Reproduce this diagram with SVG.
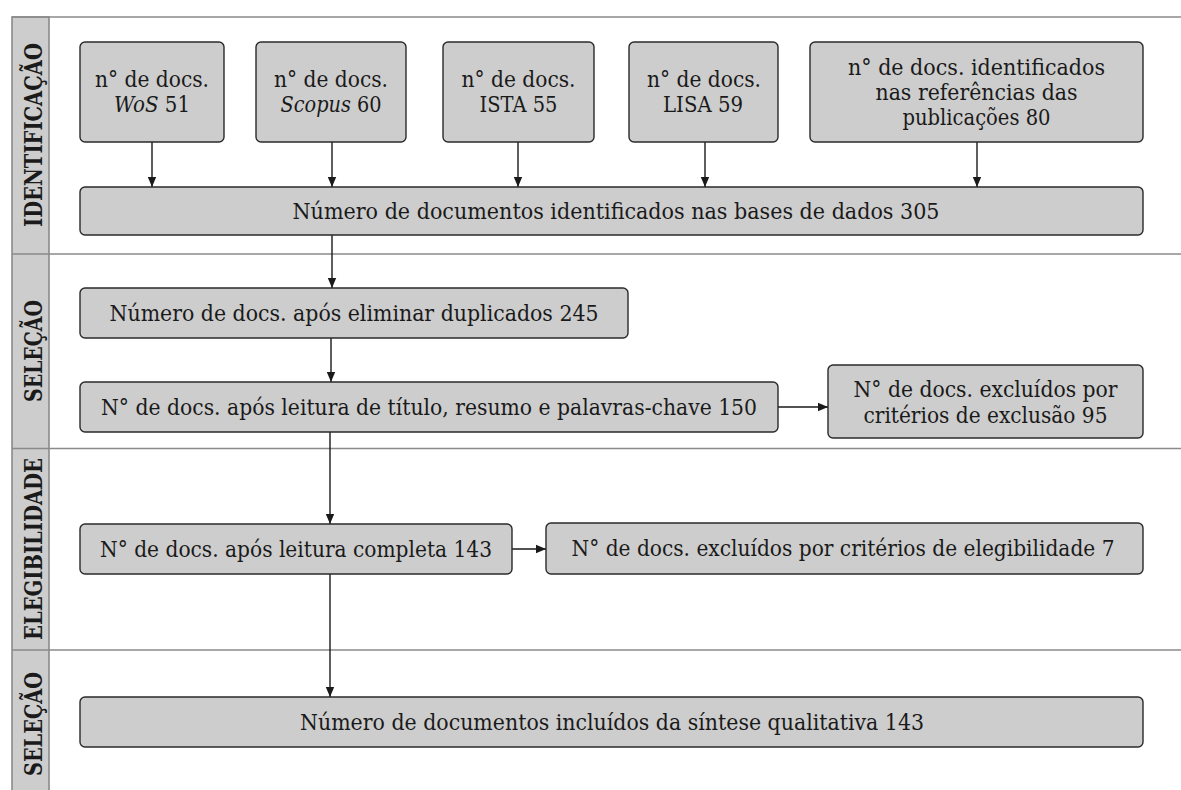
<svg xmlns="http://www.w3.org/2000/svg" width="1181" height="790" viewBox="0 0 1181 790">
  <defs>
    <marker id="arrow" markerUnits="userSpaceOnUse" markerWidth="10" markerHeight="10" viewBox="0 0 10 10" refX="10" refY="5" orient="auto">
      <path d="M0,0.8 L10,5 L0,9.2 Z" fill="#1a1a1a"/>
    </marker>
    <style>
      .lane { stroke: #8a8a8a; stroke-width: 1.6; fill: none; }
      .side { fill: #cdcdcd; stroke: #8a8a8a; stroke-width: 1.6; }
      .box { fill: #cdcdcd; stroke: #2a2a2a; stroke-width: 1.4; }
      .lbl { font-family: "DejaVu Serif", "Liberation Serif", serif; font-size: 22.5px; fill: #1a1a1a; text-anchor: middle; }
      .hdr { font-family: "DejaVu Serif", "Liberation Serif", serif; font-size: 25px; font-weight: bold; fill: #1a1a1a; text-anchor: middle; }
      .conn { stroke: #1a1a1a; stroke-width: 1.4; fill: none; marker-end: url(#arrow); }
      .it { font-style: italic; }
    </style>
  </defs>

  <!-- swimlane frame -->
  <g id="lanes">
    <rect class="side" x="12" y="17" width="37" height="790"/>
    <line class="lane" x1="12" y1="17" x2="1181" y2="17"/>
    <line class="lane" x1="12" y1="254" x2="1181" y2="254"/>
    <line class="lane" x1="12" y1="448.5" x2="1181" y2="448.5"/>
    <line class="lane" x1="12" y1="650" x2="1181" y2="650"/>
    <text class="hdr" transform="translate(42,135) rotate(-90)" textLength="184" lengthAdjust="spacingAndGlyphs">IDENTIFICAÇÃO</text>
    <text class="hdr" transform="translate(42,351) rotate(-90)" textLength="102" lengthAdjust="spacingAndGlyphs">SELEÇÃO</text>
    <text class="hdr" transform="translate(42,549) rotate(-90)" textLength="182" lengthAdjust="spacingAndGlyphs">ELEGIBILIDADE</text>
    <text class="hdr" transform="translate(42,724) rotate(-90)" textLength="104" lengthAdjust="spacingAndGlyphs">SELEÇÃO</text>
  </g>

  <!-- connectors -->
  <g id="connectors">
    <line class="conn" x1="152" y1="142" x2="152" y2="187"/>
    <line class="conn" x1="332" y1="142" x2="332" y2="187"/>
    <line class="conn" x1="518" y1="142" x2="518" y2="187"/>
    <line class="conn" x1="705" y1="142" x2="705" y2="187"/>
    <line class="conn" x1="977" y1="142" x2="977" y2="187"/>
    <line class="conn" x1="332" y1="235" x2="332" y2="288"/>
    <line class="conn" x1="331" y1="338" x2="331" y2="382"/>
    <line class="conn" x1="778" y1="407" x2="828" y2="407"/>
    <line class="conn" x1="330" y1="432" x2="330" y2="524"/>
    <line class="conn" x1="512" y1="549" x2="546" y2="549"/>
    <line class="conn" x1="330" y1="574" x2="330" y2="697"/>
  </g>

  <g id="wos">
    <rect class="box" x="80" y="42" width="144" height="100" rx="5"/>
    <text class="lbl" x="152" y="87" textLength="114" lengthAdjust="spacingAndGlyphs">n° de docs.</text>
    <text class="lbl" x="152" y="112" textLength="76" lengthAdjust="spacingAndGlyphs"><tspan class="it">WoS</tspan> 51</text>
  </g>
  <g id="scopus">
    <rect class="box" x="256" y="42" width="150" height="100" rx="5"/>
    <text class="lbl" x="331" y="87" textLength="114" lengthAdjust="spacingAndGlyphs">n° de docs.</text>
    <text class="lbl" x="331" y="112" textLength="101" lengthAdjust="spacingAndGlyphs"><tspan class="it">Scopus</tspan> 60</text>
  </g>
  <g id="ista">
    <rect class="box" x="443" y="42" width="151" height="100" rx="5"/>
    <text class="lbl" x="518.5" y="87" textLength="114" lengthAdjust="spacingAndGlyphs">n° de docs.</text>
    <text class="lbl" x="518.5" y="112" textLength="78" lengthAdjust="spacingAndGlyphs">ISTA 55</text>
  </g>
  <g id="lisa">
    <rect class="box" x="629" y="42" width="149" height="100" rx="5"/>
    <text class="lbl" x="704" y="87" textLength="114" lengthAdjust="spacingAndGlyphs">n° de docs.</text>
    <text class="lbl" x="703" y="112" textLength="80" lengthAdjust="spacingAndGlyphs">LISA 59</text>
  </g>
  <g id="refs">
    <rect class="box" x="810" y="42" width="333" height="100" rx="5"/>
    <text class="lbl" x="976.5" y="75" textLength="257" lengthAdjust="spacingAndGlyphs">n° de docs. identificados</text>
    <text class="lbl" x="976.5" y="100" textLength="202" lengthAdjust="spacingAndGlyphs">nas referências das</text>
    <text class="lbl" x="976.5" y="125" textLength="148" lengthAdjust="spacingAndGlyphs">publicações 80</text>
  </g>
  <g id="total">
    <rect class="box" x="80" y="187" width="1063" height="48" rx="5"/>
    <text class="lbl" x="616" y="218.5" textLength="647" lengthAdjust="spacingAndGlyphs">Número de documentos identificados nas bases de dados 305</text>
  </g>
  <g id="dedup">
    <rect class="box" x="80" y="288" width="548" height="50" rx="5"/>
    <text class="lbl" x="354" y="320.5" textLength="489" lengthAdjust="spacingAndGlyphs">Número de docs. após eliminar duplicados 245</text>
  </g>
  <g id="screening">
    <rect class="box" x="80" y="382" width="698" height="50" rx="5"/>
    <text class="lbl" x="429" y="414.5" textLength="656" lengthAdjust="spacingAndGlyphs">N° de docs. após leitura de título, resumo e palavras-chave 150</text>
  </g>
  <g id="excluded">
    <rect class="box" x="828" y="365" width="315" height="73" rx="5"/>
    <text class="lbl" x="985.5" y="397" textLength="264" lengthAdjust="spacingAndGlyphs">N° de docs. excluídos por</text>
    <text class="lbl" x="985.5" y="422.5" textLength="244" lengthAdjust="spacingAndGlyphs">critérios de exclusão 95</text>
  </g>
  <g id="fulltext">
    <rect class="box" x="80" y="524" width="432" height="50" rx="5"/>
    <text class="lbl" x="296" y="556.5" textLength="392" lengthAdjust="spacingAndGlyphs">N° de docs. após leitura completa 143</text>
  </g>
  <g id="ineligible">
    <rect class="box" x="546" y="523" width="597" height="51" rx="5"/>
    <text class="lbl" x="843" y="556" textLength="543" lengthAdjust="spacingAndGlyphs">N° de docs. excluídos por critérios de elegibilidade 7</text>
  </g>
  <g id="included">
    <rect class="box" x="80" y="697" width="1063" height="50" rx="5"/>
    <text class="lbl" x="612" y="729.5" textLength="624" lengthAdjust="spacingAndGlyphs">Número de documentos incluídos da síntese qualitativa 143</text>
  </g>
</svg>
